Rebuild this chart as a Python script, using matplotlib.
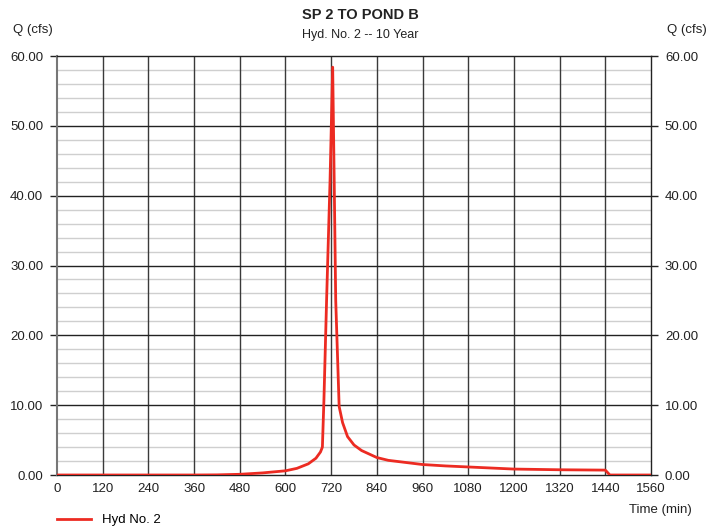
import matplotlib
matplotlib.use("Agg")
import matplotlib.pyplot as plt
import numpy as np

plt.rcParams['font.family'] = ['Liberation Sans', 'DejaVu Sans']

time_min = [0, 120, 240, 360, 420, 480, 540, 600, 630, 660, 680, 692, 697, 701,
            708, 717, 724, 728, 732, 741, 750, 763, 780, 800, 840, 870, 900, 960,
            1020, 1080, 1140, 1200, 1320, 1440, 1452, 1560]
flow_cfs = [0.0, 0.0, 0.0, 0.0, 0.02, 0.1, 0.3, 0.6, 0.95, 1.6, 2.4, 3.3, 4.0, 10.7,
            25.0, 42.0, 58.4, 42.0, 25.0, 9.8, 7.5, 5.5, 4.3, 3.5, 2.5, 2.1, 1.9, 1.5,
            1.3, 1.15, 1.0, 0.85, 0.75, 0.7, 0.0, 0.0]

x_ticks = list(range(0, 1561, 120))
y_ticks = list(range(0, 61, 10))
y_minor = [v for v in range(0, 61, 2) if v % 10 != 0]

fig = plt.figure(figsize=(7.21, 5.27), dpi=100)
ax = fig.add_axes([57/721, 52/527, 594/721, 419/527])

ax.set_xlim(0, 1560)
ax.set_ylim(0, 60)

for v in y_minor:
    ax.axhline(v, color='#cfcfcf', lw=1.0, zorder=1)
for v in x_ticks[1:-1]:
    ax.axvline(v, color='#3a3a3a', lw=1.0, zorder=2)
for v in y_ticks[1:-1]:
    ax.axhline(v, color='#222222', lw=1.0, zorder=2)

ax.plot(time_min, flow_cfs, color='#ec2b22', lw=2.0, zorder=3, label='Hyd No. 2')

ax.set_xticks(x_ticks)
ax.set_xticklabels([str(v) for v in x_ticks])
ax.set_yticks(y_ticks)
ax.set_yticklabels([f"{v:.2f}" for v in y_ticks])
ax.tick_params(axis='x', length=0, pad=6, labelsize=9.5, colors='#222222')
ax.tick_params(axis='y', length=5, width=1, direction='out', pad=5, labelsize=9.5,
               colors='#222222', left=True, right=True, labelleft=True, labelright=True)
for s in ax.spines.values():
    s.set_color('#222222')
    s.set_linewidth(1.0)
ax.spines['left'].set_color('#777777')
ax.spines['left'].set_linewidth(1.5)

fig.text(0.5, 1 - 15/527, 'SP 2 TO POND B', ha='center', va='center',
         fontsize=10.5, fontweight='bold', color='#222222')
fig.text(0.5, 1 - 35/527, 'Hyd. No. 2 -- 10 Year', ha='center', va='center',
         fontsize=9, color='#222222')
fig.text(13/721, 1 - 30/527, 'Q (cfs)', ha='left', va='center', fontsize=9.5, color='#222222')
fig.text(707/721, 1 - 30/527, 'Q (cfs)', ha='right', va='center', fontsize=9.5, color='#222222')
fig.text(692/721, 1 - 510/527, 'Time (min)', ha='right', va='center', fontsize=9.5, color='#222222')

leg = fig.legend(loc='center left', bbox_to_anchor=(45/721, 1 - 520/527), frameon=False,
                 fontsize=9.5, handlelength=2.6, handletextpad=0.8)

fig.savefig('out.png', dpi=100)
